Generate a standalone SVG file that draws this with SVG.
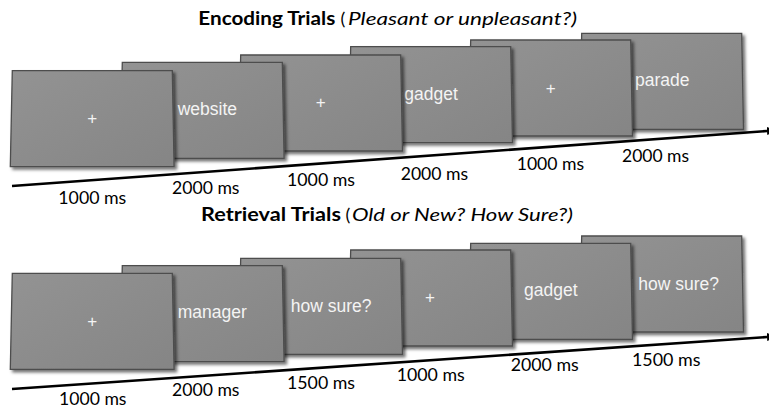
<svg xmlns="http://www.w3.org/2000/svg" width="769" height="408" viewBox="0 0 769 408">
  <defs>
    <linearGradient id="cardFill" x1="0" y1="0" x2="1" y2="1">
      <stop offset="0" stop-color="#939393"/>
      <stop offset="1" stop-color="#858585"/>
    </linearGradient>
    <filter id="shadow" x="-10%" y="-10%" width="125%" height="130%">
      <feDropShadow dx="2.5" dy="2.5" stdDeviation="1.8" flood-color="#000" flood-opacity="0.55"/>
    </filter>
    <marker id="arrow" markerUnits="userSpaceOnUse" markerWidth="12" markerHeight="10" refX="0" refY="4" orient="auto">
      <path d="M0,0 L11,4 L0,8 z" fill="#000"/>
    </marker>
    <style>
      .card { fill: url(#cardFill); stroke: #4d4d4d; stroke-width: 1.3; filter: url(#shadow); }
      .word { font-family: "Liberation Sans", Arial, sans-serif; font-size: 17.5px; fill: #f4f4f4; }
      .plus { font-family: "Liberation Sans", Arial, sans-serif; font-size: 17px; fill: #f4f4f4; text-anchor: middle; }
      .time { font-family: Lato, "Open Sans", sans-serif; font-size: 18px; fill: #000; }
      .title { font-family: Lato, "Open Sans", sans-serif; font-size: 18px; fill: #000; }
      .tb { font-weight: bold; }
      .ti { font-style: italic; }
      .timeline { stroke: #000; stroke-width: 2.6; fill: none; marker-end: url(#arrow); }
    </style>
  </defs>
  <rect width="769" height="408" fill="#fff"/>

  <!-- Titles -->
  <g id="title-encoding">
    <text class="title tb" x="198.3" y="24.5" textLength="137" lengthAdjust="spacingAndGlyphs">Encoding Trials</text>
    <text class="title" x="340.5" y="24.5">(</text>
    <text class="title ti" x="348" y="24.5" textLength="229" lengthAdjust="spacingAndGlyphs">Pleasant or unpleasant?)</text>
  </g>
  <g id="title-retrieval">
    <text class="title tb" x="201" y="220.8" textLength="140" lengthAdjust="spacingAndGlyphs">Retrieval Trials</text>
    <text class="title" x="345.5" y="220.8">(</text>
    <text class="title ti" x="352" y="220.8" textLength="221" lengthAdjust="spacingAndGlyphs">Old or New? How Sure?)</text>
  </g>

  <!-- Connectors (timelines) -->
  <g id="connectors">
    <line class="timeline" x1="12" y1="186" x2="767" y2="131"/>
    <line class="timeline" x1="12" y1="389" x2="767" y2="337"/>
  </g>

  <!-- Encoding cards (back to front) -->
  <g id="enc-6">
    <polygon class="card" points="581.7,33.3 741.7,33.3 743.5,129.3 579.7,129.3"/>
    <text class="word" x="635" y="86">parade</text>
  </g>
  <g id="enc-5">
    <polygon class="card" points="470.7,40 630.7,40 632.5,136 468.7,136"/>
    <text class="plus" x="550.7" y="94">+</text>
  </g>
  <g id="enc-4">
    <polygon class="card" points="350.7,46.7 510.7,46.7 512.5,142.7 348.7,142.7"/>
    <text class="word" x="404.3" y="100">gadget</text>
  </g>
  <g id="enc-3">
    <polygon class="card" points="240.7,55 400.7,55 402.5,151 238.7,151"/>
    <text class="plus" x="320.7" y="108">+</text>
  </g>
  <g id="enc-2">
    <polygon class="card" points="122.3,62.3 282.3,62.3 284.1,158.3 120.3,158.3"/>
    <text class="word" x="177.7" y="115.3">website</text>
  </g>
  <g id="enc-1">
    <polygon class="card" points="12.3,70.7 172.3,70.7 174.1,166.7 10.3,166.7"/>
    <text class="plus" x="92.3" y="124">+</text>
  </g>

  <!-- Encoding durations -->
  <g id="enc-times">
    <text class="time" x="58.3" y="204.3" textLength="68" lengthAdjust="spacingAndGlyphs">1000 ms</text>
    <text class="time" x="172" y="194.3" textLength="67.5" lengthAdjust="spacingAndGlyphs">2000 ms</text>
    <text class="time" x="287" y="186.3" textLength="68" lengthAdjust="spacingAndGlyphs">1000 ms</text>
    <text class="time" x="400.7" y="179.6" textLength="67.5" lengthAdjust="spacingAndGlyphs">2000 ms</text>
    <text class="time" x="516.7" y="170.3" textLength="67.5" lengthAdjust="spacingAndGlyphs">1000 ms</text>
    <text class="time" x="622" y="162" textLength="67" lengthAdjust="spacingAndGlyphs">2000 ms</text>
  </g>

  <!-- Retrieval cards (back to front) -->
  <g id="ret-6">
    <polygon class="card" points="581.7,236 741.7,236 743.5,332 579.7,332"/>
    <text class="word" x="638.3" y="290">how sure?</text>
  </g>
  <g id="ret-5">
    <polygon class="card" points="470.7,243.3 630.7,243.3 632.5,339.3 468.7,339.3"/>
    <text class="word" x="524" y="296">gadget</text>
  </g>
  <g id="ret-4">
    <polygon class="card" points="350.7,250 510.7,250 512.5,346 348.7,346"/>
    <text class="plus" x="430" y="303">+</text>
  </g>
  <g id="ret-3">
    <polygon class="card" points="240.7,258.3 400.7,258.3 402.5,354.3 238.7,354.3"/>
    <text class="word" x="290.7" y="311.5">how sure?</text>
  </g>
  <g id="ret-2">
    <polygon class="card" points="122.3,265.7 282.3,265.7 284.1,361.7 120.3,361.7"/>
    <text class="word" x="177.7" y="318.3">manager</text>
  </g>
  <g id="ret-1">
    <polygon class="card" points="12.3,273.3 172.3,273.3 174.1,369.3 10.3,369.3"/>
    <text class="plus" x="92.3" y="326.7">+</text>
  </g>

  <!-- Retrieval durations -->
  <g id="ret-times">
    <text class="time" x="59" y="404.6" textLength="67.5" lengthAdjust="spacingAndGlyphs">1000 ms</text>
    <text class="time" x="172" y="395.6" textLength="67.5" lengthAdjust="spacingAndGlyphs">2000 ms</text>
    <text class="time" x="287" y="389" textLength="68" lengthAdjust="spacingAndGlyphs">1500 ms</text>
    <text class="time" x="396.7" y="381.3" textLength="68" lengthAdjust="spacingAndGlyphs">1000 ms</text>
    <text class="time" x="510.7" y="371.3" textLength="68" lengthAdjust="spacingAndGlyphs">2000 ms</text>
    <text class="time" x="632" y="365.6" textLength="68.5" lengthAdjust="spacingAndGlyphs">1500 ms</text>
  </g>
</svg>
